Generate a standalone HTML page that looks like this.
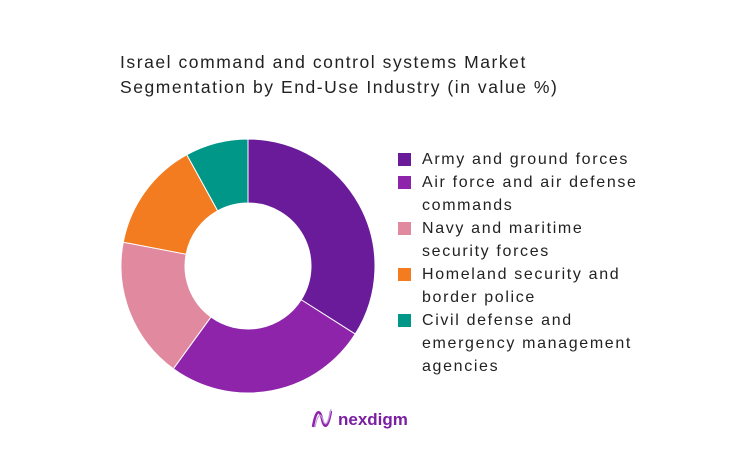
<!DOCTYPE html>
<html><head><meta charset="utf-8"><style>
body{margin:0;width:736px;height:464px;background:#fff;font-family:"Liberation Sans",sans-serif;overflow:hidden;position:relative}
.title{position:absolute;left:120px;top:50px;font-size:17.5px;line-height:25px;color:#222;letter-spacing:1.55px;white-space:nowrap}
.leg{position:absolute;left:398px;font-size:16px;line-height:23px;color:#222;letter-spacing:1.65px}
.sw{position:absolute;left:0;top:5px;width:13px;height:13px}
.leg span.t{position:absolute;left:24px;white-space:nowrap}
</style></head><body>
<div class="title">Israel command and control systems Market<br>Segmentation by End-Use Industry (in value %)</div>
<svg id="c" width="736" height="464" style="position:absolute;left:0;top:0"></svg>
<div id="legend"></div>
<div style="position:absolute;left:310px;top:405px">
<svg width="110" height="28"><path d="M3 22 C6 4,10 4,12 14 C14 24,18 24,21 6" stroke="#8e24aa" stroke-width="2.5" fill="none"/><path d="M5 22 C8 8,11 8,13 15 C15 22,18 20,21 4" stroke="#c39be0" stroke-width="1.2" fill="none"/>
<text x="28" y="20" font-family="Liberation Sans" font-weight="bold" font-size="17" fill="#7b1fa2">nexdigm</text></svg></div>
<script>
const categories=["Army and ground forces","Air force and air defense commands","Navy and maritime security forces","Homeland security and border police","Civil defense and emergency management agencies"];
const values=[34,26,18,14,8];
const colors=["#6a1b9a","#8e24aa","#e0899f","#f47c20","#009688"];
const legendLines=[["Army and ground forces"],["Air force and air defense","commands"],["Navy and maritime","security forces"],["Homeland security and","border police"],["Civil defense and","emergency management","agencies"]];
const svg=document.getElementById('c');
const cx=248,cy=266,R=127,r=63;
const total=values.reduce((a,b)=>a+b,0);
let a0=0;
function pt(a,rad){return [cx+rad*Math.sin(a),cy-rad*Math.cos(a)];}
values.forEach((v,i)=>{
 const a1=a0+v/total*2*Math.PI;
 const [x0,y0]=pt(a0,R),[x1,y1]=pt(a1,R),[x2,y2]=pt(a1,r),[x3,y3]=pt(a0,r);
 const lg=(a1-a0)>Math.PI?1:0;
 const p=document.createElementNS("http://www.w3.org/2000/svg","path");
 p.setAttribute("d",`M${x0},${y0}A${R},${R} 0 ${lg} 1 ${x1},${y1}L${x2},${y2}A${r},${r} 0 ${lg} 0 ${x3},${y3}Z`);
 p.setAttribute("fill",colors[i]);p.setAttribute("stroke","#fff");p.setAttribute("stroke-width","1");
 
 
 svg.appendChild(p);
 a0=a1;
});
const lg=document.getElementById('legend');
let y=148;
legendLines.forEach((lines,i)=>{
 const d=document.createElement('div');d.className='leg';d.style.top=y+'px';
 
 
 d.innerHTML=`<div class="sw" style="background:${colors[i]}"></div>`+lines.map((l,k)=>`<span class="t" style="top:${k*23}px">${l}</span>`).join('');
 lg.appendChild(d);
 y+=lines.length*23;
});
</script>
</body></html>
